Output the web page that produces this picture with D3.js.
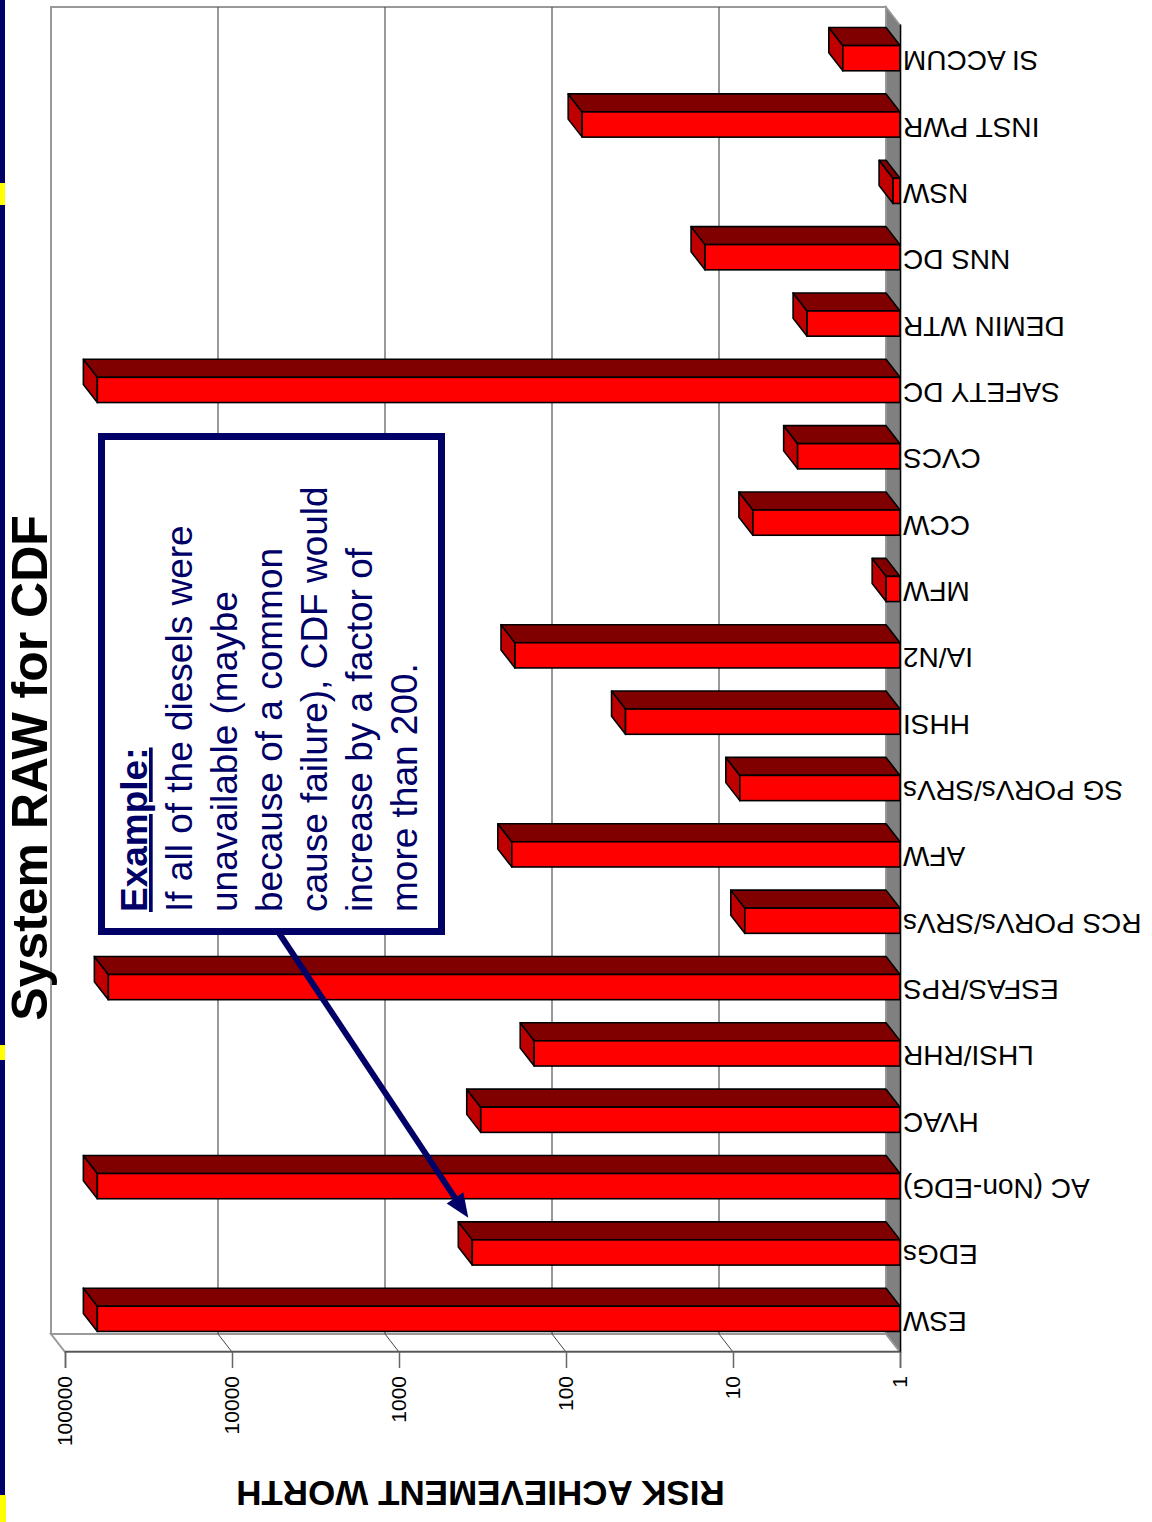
<!DOCTYPE html>
<html>
<head>
<meta charset="utf-8">
<script src="https://cdn.jsdelivr.net/npm/d3@7"></script>
<style>
  html, body { margin: 0; padding: 0; background: #ffffff; }
  svg { display: block; }
  text { font-family: "Liberation Sans", Arial, Helvetica, sans-serif; }
</style>
</head>
<body>
<script>
// ---------------- data ----------------
const categories = ["ESW", "EDGs", "AC (Non-EDG)", "HVAC", "LHSI/RHR", "ESFAS/RPS",
  "RCS PORVs/SRVs", "AFW", "SG PORVs/SRVs", "HHSI", "IA/N2", "MFW", "CCW", "CVCS",
  "SAFETY DC", "DEMIN WTR", "NNS DC", "NSW", "INST PWR", "SI ACCUM"];
const rawValues = [64000, 364, 64000, 324, 155, 55000, 8.5, 211, 9.1, 44, 202, 1.21,
  7.6, 4.1, 64000, 3.6, 14.7, 1.1, 80, 2.2];
const valueTicks = [1, 10, 100, 1000, 10000, 100000];
const gridValues = [10, 100, 1000, 10000];
const titleText = "System RAW for CDF";
const axisTitle = "RISK ACHIEVEMENT WORTH";
const noteTitle = "Example:";
const noteLines = ["If all of the diesels were", "unavailable (maybe", "because of a common",
  "cause failure), CDF would", "increase by a factor of", "more than 200."];
const arrowTarget = "EDGs";

// ---------------- layout (slide is drawn in its own frame, then turned) ----------------
const W = 1152, H = 1522;           // page
const SW = 1522, SH = 1152;         // slide frame (before the quarter turn)
const navy = "#000066";
const depth = { dx: 18, dy: -14 };  // 3D offset

const svg = d3.select("body").append("svg").attr("width", W).attr("height", H);
svg.append("rect").attr("width", W).attr("height", H).attr("fill", "#fff");

const g = svg.append("g").attr("transform", `translate(0,${H}) rotate(-90)`);

// slide edge (navy band with yellow accents)
g.append("rect").attr("x", 0).attr("y", 0).attr("width", SW).attr("height", 5).attr("fill", navy);
[[0, 27, 6], [462, 15, 5], [1317, 22, 5]].forEach(([x, w, h]) => {
  g.append("rect").attr("x", x).attr("y", 0).attr("width", w).attr("height", h).attr("fill", "#ffff00");
});

// scales
const x = d3.scaleBand().domain(categories).range([170, 1497])
  .paddingInner(0.62).paddingOuter(0.31);
const y = d3.scaleLog().domain([1, 100000]).range([900, 65]);
const x0 = 170, x1 = 1497, yBase = y(1), yTop = y(100000);

// back wall
g.append("rect")
  .attr("x", x0 + depth.dx).attr("y", yTop + depth.dy)
  .attr("width", x1 - x0).attr("height", yBase - yTop)
  .attr("fill", "#fff").attr("stroke", "#999").attr("stroke-width", 2);

// side wall
g.append("path")
  .attr("d", d3.line()([[x0, yTop], [x0 + depth.dx, yTop + depth.dy],
    [x0 + depth.dx, yBase + depth.dy], [x0, yBase]]) + "Z")
  .attr("fill", "#fff").attr("stroke", "#999").attr("stroke-width", 2);

// floor
g.append("path")
  .attr("d", d3.line()([[x0, yBase], [x1, yBase], [x1 + depth.dx, yBase + depth.dy],
    [x0 + depth.dx, yBase + depth.dy]]) + "Z")
  .attr("fill", "#808080").attr("stroke", "#999").attr("stroke-width", 1.5);

// gridlines on back wall + side wall
gridValues.forEach(v => {
  g.append("line")
    .attr("x1", x0 + depth.dx).attr("x2", x1 + depth.dx)
    .attr("y1", y(v) + depth.dy).attr("y2", y(v) + depth.dy)
    .attr("stroke", "#555").attr("stroke-width", 1.2);
  g.append("line")
    .attr("x1", x0).attr("x2", x0 + depth.dx)
    .attr("y1", y(v)).attr("y2", y(v) + depth.dy)
    .attr("stroke", "#444").attr("stroke-width", 1);
});

// value axis
const yAxis = g.append("g").attr("transform", `translate(${x0},0)`)
  .call(d3.axisLeft(y).tickValues(valueTicks).tickFormat(d3.format("d"))
    .tickSize(16).tickPadding(8));
yAxis.select(".domain").attr("stroke", "#555").attr("stroke-width", 1.5);
yAxis.selectAll(".tick line").attr("stroke", "#666").attr("stroke-width", 1.5);
yAxis.selectAll(".tick text")
  .attr("font-family", "'Liberation Sans', Arial, sans-serif")
  .attr("font-size", 21).attr("fill", "#000");

// bars (3D)
const bw = x.bandwidth();
const data = categories.map((c, i) => ({ c, v: rawValues[i] }));
const bars = g.append("g").selectAll("g").data(data).join("g");
bars.append("path") // top of column
  .attr("d", d => {
    const a = x(d.c), b = a + bw, yv = y(d.v);
    return d3.line()([[a, yv], [b, yv], [b + depth.dx, yv + depth.dy], [a + depth.dx, yv + depth.dy]]) + "Z";
  })
  .attr("fill", "#c00000").attr("stroke", "#000").attr("stroke-width", 1.6)
  .attr("stroke-linejoin", "round");
bars.append("path") // side of column
  .attr("d", d => {
    const b = x(d.c) + bw, yv = y(d.v);
    return d3.line()([[b, yv], [b + depth.dx, yv + depth.dy], [b + depth.dx, yBase + depth.dy], [b, yBase]]) + "Z";
  })
  .attr("fill", "#800000").attr("stroke", "#000").attr("stroke-width", 1.6)
  .attr("stroke-linejoin", "round");
bars.append("rect") // front
  .attr("x", d => x(d.c)).attr("y", d => y(d.v))
  .attr("width", bw).attr("height", d => yBase - y(d.v))
  .attr("fill", "#ff0000").attr("stroke", "#000").attr("stroke-width", 1.6);

// category axis
const xAxis = g.append("g").attr("transform", `translate(0,${yBase})`)
  .call(d3.axisBottom(x).tickSize(0));
xAxis.select(".domain").attr("stroke", "#000").attr("stroke-width", 1.6);
xAxis.selectAll(".tick text")
  .attr("transform", "rotate(-90)")
  .attr("text-anchor", "end")
  .attr("x", -3).attr("y", 7).attr("dy", 0)
  .attr("font-family", "'Liberation Sans', Arial, sans-serif")
  .attr("font-size", 28).attr("fill", "#000");

// axis title
g.append("text")
  .attr("transform", `translate(41,${(yTop + yBase) / 2 - 2}) rotate(-90)`)
  .attr("text-anchor", "middle")
  .attr("font-size", 35).attr("font-weight", "bold").attr("fill", "#000")
  .text(axisTitle);

// slide title
g.append("text")
  .attr("x", 754).attr("y", 47)
  .attr("text-anchor", "middle")
  .attr("font-size", 50).attr("font-weight", "bold").attr("fill", "#000")
  .text(titleText);

// arrow from the note to the EDGs bar
const ti = categories.indexOf(arrowTarget);
const tip = [x(arrowTarget) + bw + depth.dx + 4, y(rawValues[ti]) - 4];
const start = [592, 277];
const ux = tip[0] - start[0], uy = tip[1] - start[1], L = Math.hypot(ux, uy);
const u = [ux / L, uy / L], p = [-u[1], u[0]];
const headLen = 24, headW = 10;
const base = [tip[0] - headLen * u[0], tip[1] - headLen * u[1]];
g.append("line")
  .attr("x1", start[0]).attr("y1", start[1])
  .attr("x2", base[0] + 3 * u[0]).attr("y2", base[1] + 3 * u[1])
  .attr("stroke", navy).attr("stroke-width", 6);
g.append("path")
  .attr("d", d3.line()([tip, [base[0] + headW * p[0], base[1] + headW * p[1]],
    [base[0] - headW * p[0], base[1] - headW * p[1]]]) + "Z")
  .attr("fill", navy);

// note box
g.append("rect")
  .attr("x", 590.5).attr("y", 101.5).attr("width", 495).attr("height", 340)
  .attr("fill", "#fff").attr("stroke", navy).attr("stroke-width", 7);
const note = g.append("text").attr("font-size", 37).attr("fill", navy);
note.append("tspan").attr("x", 610).attr("y", 147)
  .attr("font-weight", "bold").style("text-decoration", "underline")
  .text(noteTitle);
noteLines.forEach((t, i) => {
  note.append("tspan").attr("x", 610).attr("y", 147 + 45 * (i + 1)).text(t);
});
</script>
</body>
</html>
